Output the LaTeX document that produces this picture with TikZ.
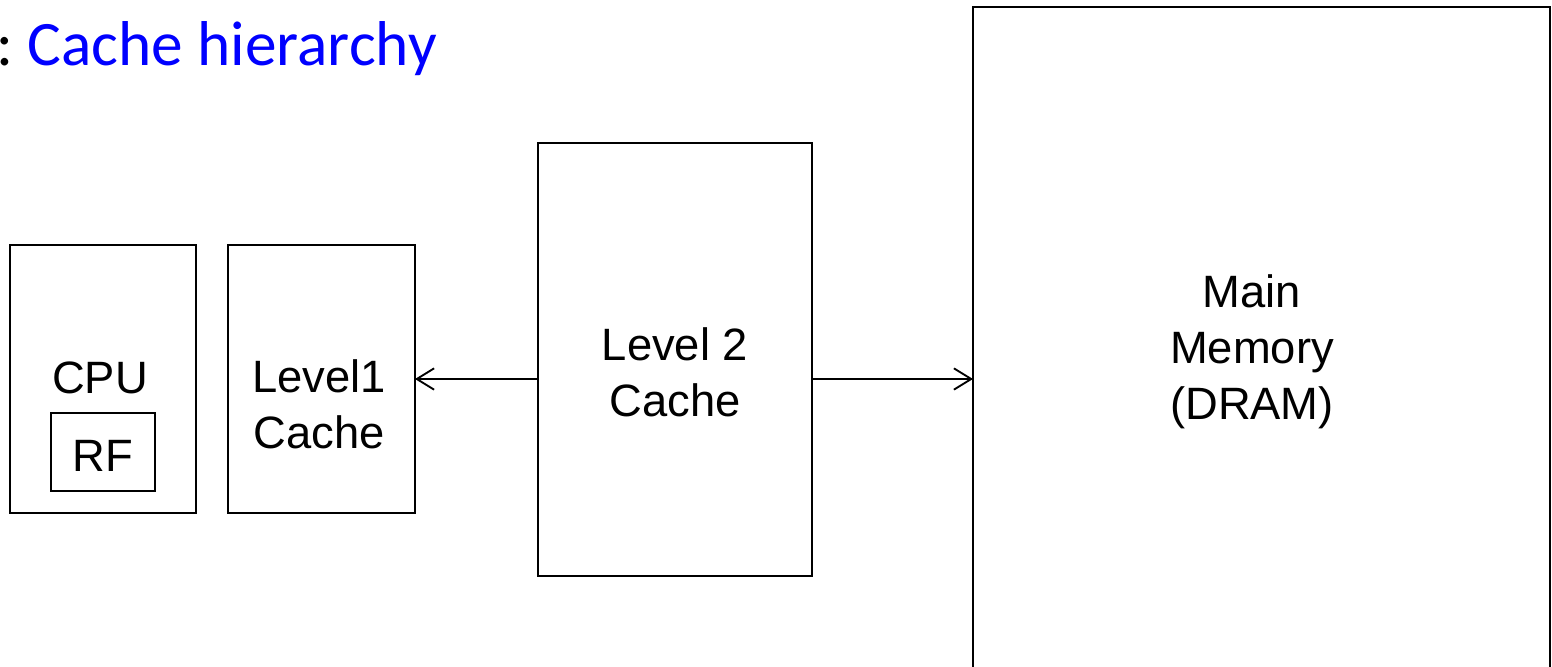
\documentclass[tikz,border=0pt]{standalone}
\usepackage{fontspec}
\setmainfont{Liberation Sans}
\newfontfamily\titlefont{Carlito}
\usetikzlibrary{arrows.meta}
\definecolor{titleblue}{RGB}{0,0,255}
\tikzset{
  unit/.style={draw, line width=1.1pt, inner sep=0pt, outer sep=0pt},
  boxtext/.style={font=\fontsize{34}{42}\selectfont, align=center, anchor=base, inner sep=0pt},
  link/.style={line width=1.4pt, -{Straight Barb[length=13pt,width=16pt]}}
}
\begin{document}
\begin{tikzpicture}[x=0.75pt,y=-0.75pt]
  \useasboundingbox (0,0) rectangle (1552,667);
  % title
  \node[anchor=base west, inner sep=0pt, font=\titlefont\fontsize{47.5}{56}\selectfont] (title) at (-4,66) {:~\textcolor{titleblue}{Cache hierarchy}};
  % boxes
  \node[unit, minimum width=139.5pt, minimum height=201pt] (cpu) at (103,379) {};
  \node[unit, minimum width=78pt, minimum height=58.5pt] (rf) at (103,452) {};
  \node[unit, minimum width=140.25pt, minimum height=201pt] (l1) at (321.5,379) {};
  \node[unit, minimum width=205.5pt, minimum height=324.75pt] (l2) at (675,359.5) {};
  \node[unit, minimum width=432.75pt, minimum height=519.75pt] (mem) at (1261.5,353.5) {};
  % texts (base = last line)
  \node[boxtext] (cputext) at (100,393) {CPU};
  \node[boxtext] (rftext) at (103,471) {RF};
  \node[boxtext] (l1text) at (319,448) {Level1\\Cache};
  \node[boxtext] (l2text) at (675,416) {Level 2\\Cache};
  \node[boxtext] (memtext) at (1252,419) {Main\\Memory\\(DRAM)};
  % links
  \draw[link] (l2.west |- l1.east) -- (l1.east);
  \draw[link] (l2.east |- l1.east) -- (mem.west |- l1.east);
\end{tikzpicture}
\end{document}
